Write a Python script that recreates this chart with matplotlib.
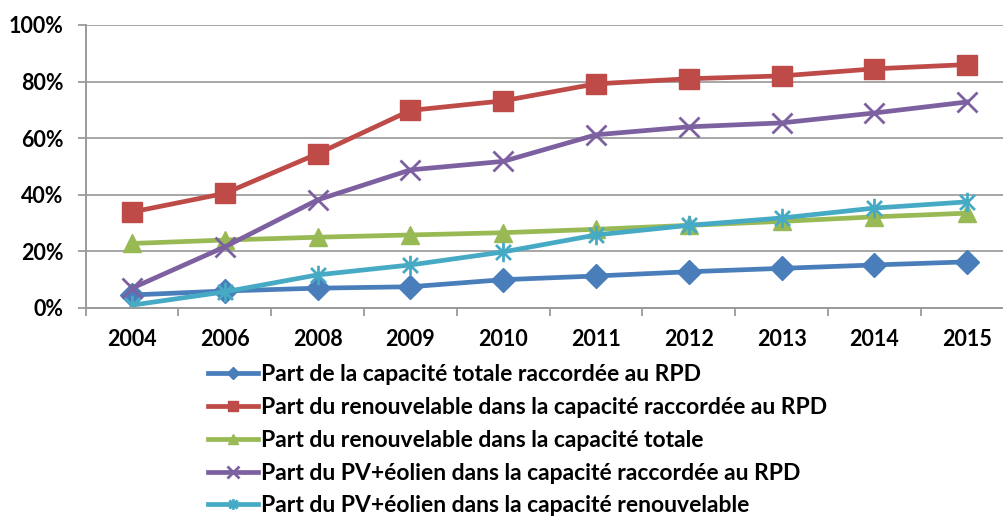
import matplotlib
matplotlib.use("Agg")
from matplotlib import pyplot as plt
from matplotlib.path import Path
from matplotlib.ticker import FixedLocator, PercentFormatter

years = ["2004", "2006", "2008", "2009", "2010", "2011", "2012", "2013", "2014", "2015"]

part_rpd = [4.6, 6.0, 7.0, 7.5, 10.0, 11.3, 12.8, 14.0, 15.2, 16.3]
renouv_rpd = [33.9, 40.5, 54.5, 69.8, 73.2, 79.2, 81.0, 82.0, 84.5, 86.0]
renouv_total = [22.8, 24.0, 25.0, 25.8, 26.6, 27.8, 29.2, 30.6, 32.2, 33.5]
pv_rpd = [7.0, 21.6, 38.2, 48.8, 51.8, 61.2, 64.0, 65.4, 68.9, 72.8]
pv_renouv = [1.0, 5.7, 11.7, 15.2, 19.8, 25.8, 29.2, 31.8, 35.3, 37.5]

labels = [
    "Part de la capacité totale raccordée au RPD",
    "Part du renouvelable dans la capacité raccordée au RPD",
    "Part du renouvelable dans la capacité totale",
    "Part du PV+éolien dans la capacité raccordée au RPD",
    "Part du PV+éolien dans la capacité renouvelable",
]
colors = ["#4A7EBB", "#BE4B48", "#98B954", "#7D60A0", "#46AAC5"]

# asterisk marker: x with a vertical bar
star = Path([(-1, -1), (1, 1), (-1, 1), (1, -1), (0, -1.3), (0, 1.3)],
            [Path.MOVETO, Path.LINETO] * 3)
markers = ["D", "s", "^", "x", star]
sizes = [12, 14, 13, 15, 14]

plt.rcParams["font.family"] = ["Lato", "DejaVu Sans"]
plt.rcParams["font.weight"] = "bold"

fig = plt.figure(figsize=(10.04, 5.19), dpi=100)
ax = fig.add_axes([0.0853, 0.4066, 0.9243, 0.5453])

xs = list(range(len(years)))
series = [part_rpd, renouv_rpd, renouv_total, pv_rpd, pv_renouv]
for vals, lab, c, m, s in zip(series, labels, colors, markers, sizes):
    mew = 2.0 if m in ("x", star) else 1.0
    ax.plot(xs, vals, color=c, lw=3.4, marker=m, ms=s, mew=mew,
            mfc=c, mec=c, label=lab)

ax.set_xlim(-0.5, len(years) - 0.5)
ax.set_ylim(0, 100)
ax.set_yticks([0, 20, 40, 60, 80, 100])
ax.yaxis.set_major_formatter(PercentFormatter(decimals=0))
ax.set_xticks(xs)
ax.set_xticklabels(years)
ax.xaxis.set_minor_locator(FixedLocator([i - 0.5 for i in range(len(years) + 1)]))
ax.tick_params(axis="x", which="major", length=0, pad=15, labelsize=15.5)
ax.tick_params(axis="x", which="minor", length=6, width=1.3, color="#9A9A9A")
ax.tick_params(axis="y", length=6, width=1.3, color="#9A9A9A", pad=10, labelsize=15.5)
for lbl in ax.get_xticklabels() + ax.get_yticklabels():
    lbl.set_fontweight("bold")

ax.grid(axis="y", color="#A6A6A6", lw=1.4)
ax.set_axisbelow(True)
for side in ["top", "right"]:
    ax.spines[side].set_visible(False)
for side in ["left", "bottom"]:
    ax.spines[side].set_color("#9A9A9A")
    ax.spines[side].set_linewidth(1.4)

leg = fig.legend(loc="upper left", bbox_to_anchor=(0.207, 0.299), frameon=False,
                 fontsize=16.5, handlelength=2.2, handletextpad=0.1, labelspacing=0.52,
                 markerscale=0.55, borderpad=0, borderaxespad=0)

fig.savefig("out.png", dpi=100)
